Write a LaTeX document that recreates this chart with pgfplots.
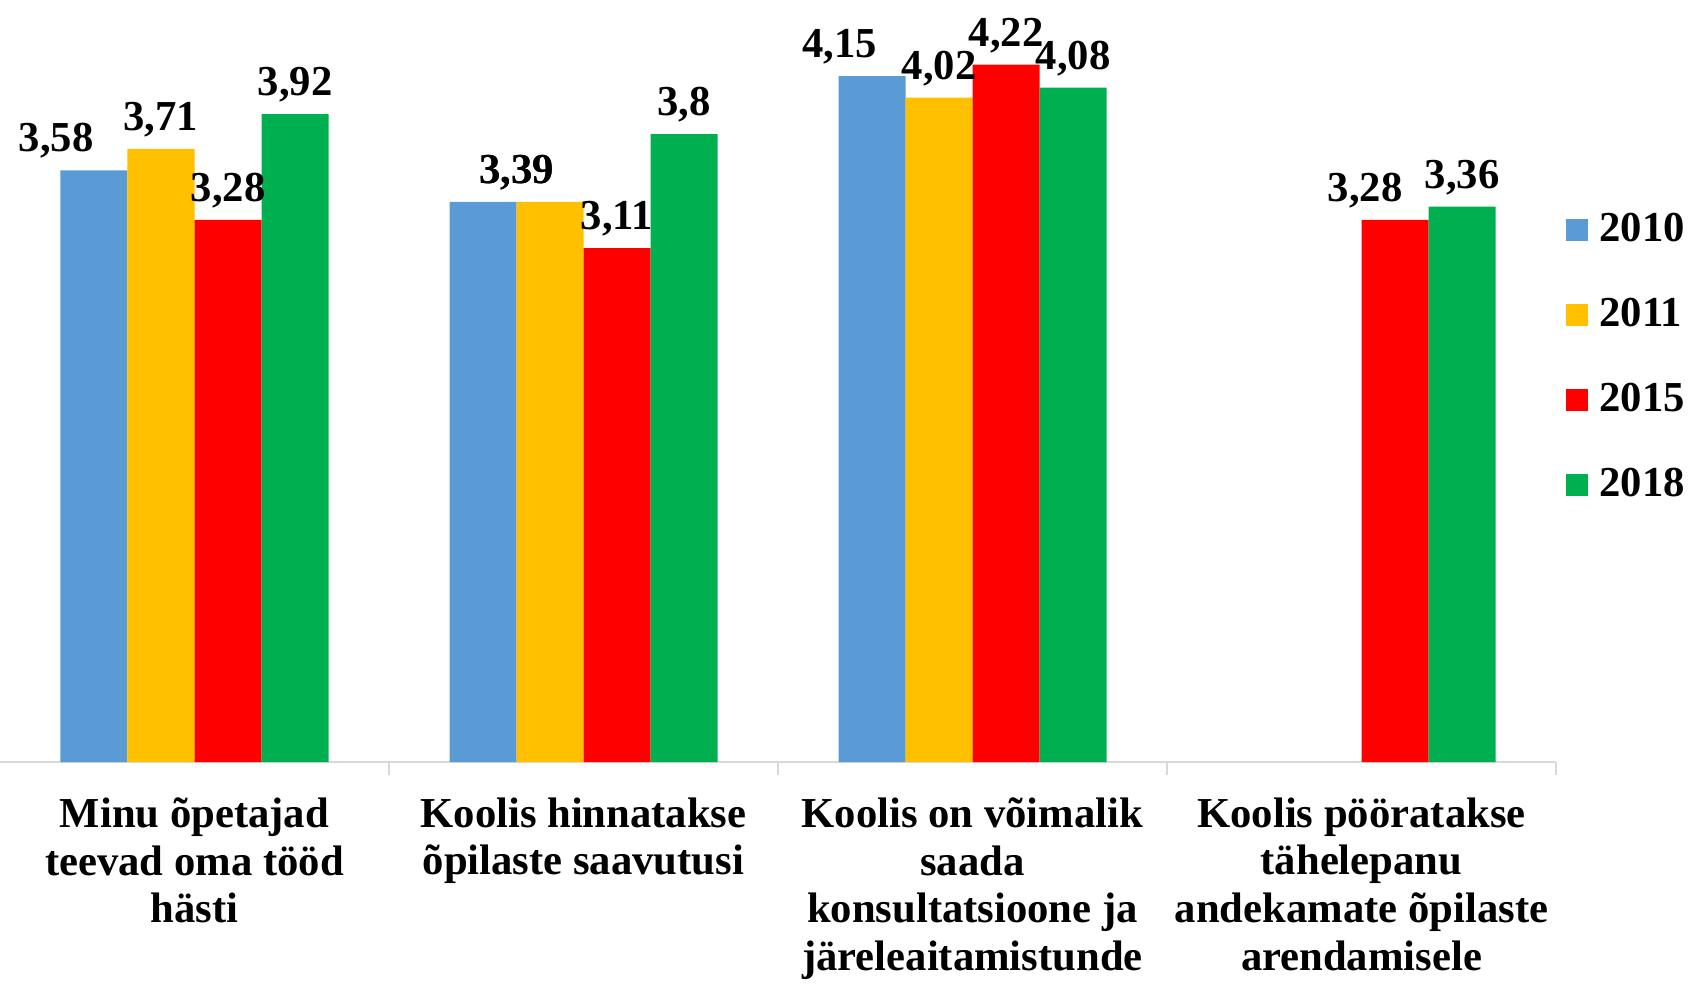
\documentclass[border=0pt]{standalone}
\usepackage{fontspec}
\setmainfont{Liberation Serif}
\usepackage{pgfplots}
\usepackage{pgfplotstable}
\pgfplotsset{compat=1.18}
\definecolor{c2010}{HTML}{5B9BD5}
\definecolor{c2011}{HTML}{FFC000}
\definecolor{c2015}{HTML}{FF0000}
\definecolor{c2018}{HTML}{00B050}
\newcommand\lbl{\fontsize{12.8}{14.3}\selectfont\bfseries}
\pgfplotstableread{
x y dx
0 3.58 -11.3
1 3.39 10
2 4.15 -9.7
}\tA
\pgfplotstableread{
x y dx
0 3.71 0
1 3.39 -10
2 4.02 0
}\tB
\pgfplotstableread{
x y dx
0 3.28 0
1 3.11 0
2 4.22 0
3 3.28 -9
}\tC
\pgfplotstableread{
x y dx
0 3.92 0
1 3.80 0
2 4.08 0
3 3.36 0
}\tD
\begin{document}
\begin{tikzpicture}
\useasboundingbox (0,0) rectangle (506.4pt,294.9pt);
\begin{axis}[
  at={(0pt,66.3pt)}, anchor=south west,
  scale only axis, width=466.8pt, height=228.6pt,
  ybar=0pt, bar width=20.1pt,
  xmin=-0.5, xmax=3.5, ymin=0, ymax=4.611,
  clip=false,
  axis y line=none, axis x line*=bottom,
  axis line style={draw=black!15, line width=0.6pt},
  xtick={0,1,2,3},
  xticklabels={{Minu õpetajad\\teevad oma tööd\\hästi},{Koolis hinnatakse\\õpilaste saavutusi},{Koolis on võimalik\\saada\\konsultatsioone ja\\järeleaitamistunde},{Koolis pööratakse\\tähelepanu\\andekamate õpilaste\\arendamisele}},
  xticklabel style={font=\lbl, align=center, anchor=north, inner sep=0pt, yshift=-10.5pt},
  major tick length=0pt,
  minor xtick={0.5,1.5,2.5,3.5},
  minor tick length=4pt, tick align=outside,
  minor tick style={draw=black!15, line width=0.6pt},
  nodes near coords={\pgfmathprintnumber[use comma, fixed, precision=2, assume math mode=true]{\pgfplotspointmeta}},
  visualization depends on={\thisrow{dx} \as \dx},
  every node near coord/.append style={font=\lbl, black, xshift=\dx pt},
  legend style={draw=none, fill=none, at={(1.006,0.531)}, anchor=west, inner sep=0pt, font=\lbl, row sep=13.1pt, nodes={inner sep=1.2pt}},
  legend cell align=left,
  legend image code/.code={\fill[#1, draw=none] (0pt,-3.3pt) rectangle (6.6pt,3.3pt);},
  /tikz/every odd column/.append style={column sep=2.2pt},
]
\addplot[fill=c2010, draw=none] table[x=x, y=y] {\tA};
\addplot[fill=c2011, draw=none] table[x=x, y=y] {\tB};
\addplot[fill=c2015, draw=none] table[x=x, y=y] {\tC};
\addplot[fill=c2018, draw=none] table[x=x, y=y] {\tD};
\legend{2010,2011,2015,2018}
\end{axis}
\end{tikzpicture}
\end{document}
